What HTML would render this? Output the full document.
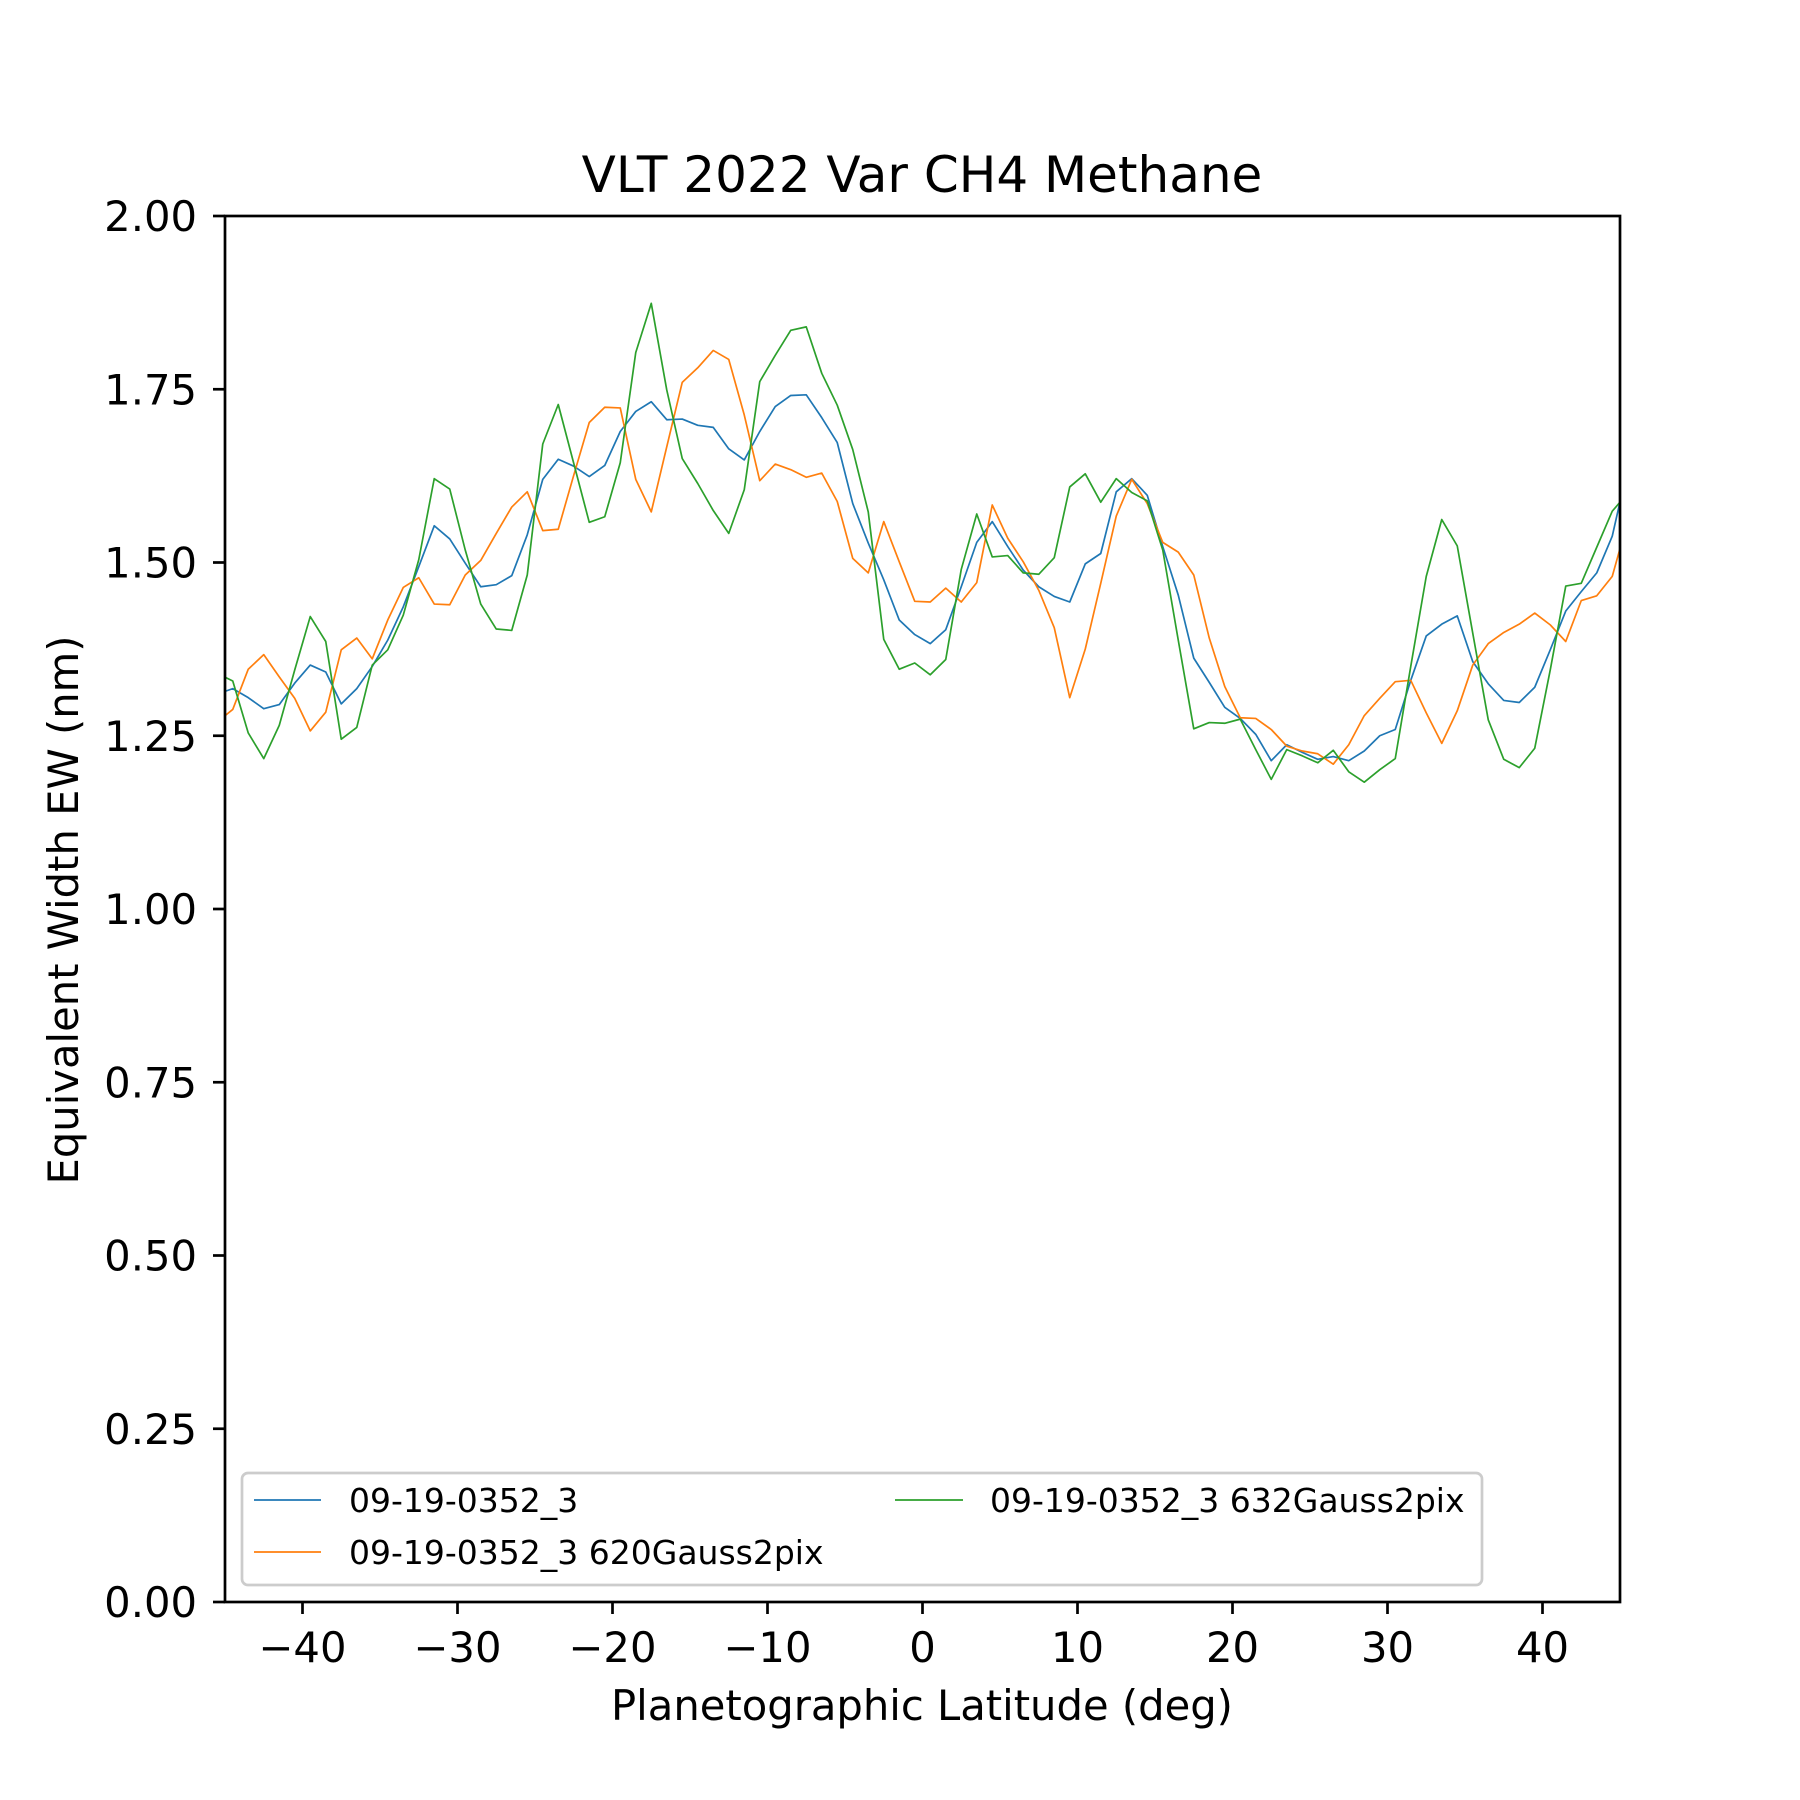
<!DOCTYPE html>
<html><head><meta charset="utf-8"><style>
html,body{margin:0;padding:0;background:#fff}
svg{display:block}
text{font-family:"DejaVu Sans","Liberation Sans",sans-serif;fill:#000}
</style></head><body>
<svg id="chart" width="1800" height="1800" viewBox="0 0 1800 1800" xmlns="http://www.w3.org/2000/svg">
<rect width="1800" height="1800" fill="#fff"/>
<text x="922" y="192" font-size="50" text-anchor="middle">VLT 2022 Var CH4 Methane</text>
<defs><clipPath id="plotclip"><rect x="225" y="216" width="1395" height="1386"/></clipPath></defs>
<g id="series" clip-path="url(#plotclip)"></g>
<g id="xticks"></g><g id="yticks"></g>
<rect x="225" y="216" width="1395" height="1386" fill="none" stroke="#000" stroke-width="2.7"/>
<text x="922" y="1720" font-size="41.7" text-anchor="middle">Planetographic Latitude (deg)</text>
<text transform="translate(78,910) rotate(-90)" font-size="41.7" text-anchor="middle">Equivalent Width EW (nm)</text>
<g>
<rect x="242" y="1473" width="1240" height="112" rx="6" fill="#fff" fill-opacity="0.8" stroke="#ccc" stroke-width="2.7"/>
<line x1="254" y1="1500" x2="321" y2="1500" stroke="#1f77b4" stroke-width="1.7"/>
<text x="349" y="1512" font-size="33">09-19-0352_3</text>
<line x1="254" y1="1552" x2="321" y2="1552" stroke="#ff7f0e" stroke-width="1.7"/>
<text x="349" y="1564" font-size="33">09-19-0352_3 620Gauss2pix</text>
<line x1="895" y1="1500" x2="963" y2="1500" stroke="#2ca02c" stroke-width="1.7"/>
<text x="990" y="1512" font-size="33">09-19-0352_3 632Gauss2pix</text>
</g>
</svg>
<script>
const latitudes = [];
for (let i = 0; i < 92; i++) latitudes.push(-45.5 + i);
const blueValues = [1.31,1.318,1.305,1.289,1.295,1.326,1.352,1.342,1.296,1.318,1.350,1.388,1.436,1.494,1.553,1.534,1.499,1.465,1.468,1.481,1.540,1.620,1.649,1.639,
1.624,1.640,1.689,1.718,1.732,1.706,1.707,1.698,1.695,1.664,1.648,1.689,1.725,1.741,1.742,1.709,1.673,1.585,1.528,1.475,1.417,1.396,
1.383,1.403,1.465,1.529,1.559,1.523,1.489,1.465,1.451,1.443,1.498,1.513,1.602,1.621,1.597,1.523,1.453,1.362,1.327,1.291,1.275,1.252,1.214,
1.237,1.226,1.216,1.220,1.214,1.228,1.250,1.259,1.330,1.394,1.411,1.423,1.357,1.325,1.301,1.298,1.320,1.374,1.430,1.458,1.485,1.538,1.637];
const orangeValues = [1.27,1.288,1.346,1.367,1.335,1.304,1.257,1.284,1.374,1.391,1.361,1.417,1.464,1.478,1.440,1.439,1.482,1.503,1.542,1.580,1.602,1.546,1.548,1.626,
1.702,1.724,1.723,1.620,1.573,1.667,1.760,1.781,1.806,1.793,1.713,1.618,1.642,1.634,1.623,1.629,1.588,1.506,1.485,1.559,1.501,1.444,
1.443,1.463,1.443,1.471,1.583,1.535,1.501,1.460,1.406,1.305,1.375,1.470,1.567,1.620,1.585,1.529,1.515,1.482,1.391,1.321,1.276,1.275,1.259,
1.235,1.228,1.224,1.209,1.237,1.279,1.304,1.328,1.330,1.283,1.239,1.286,1.352,1.383,1.399,1.411,1.427,1.410,1.386,1.445,1.452,1.480,1.560];
const greenValues = [1.34,1.329,1.254,1.217,1.265,1.345,1.422,1.386,1.245,1.262,1.352,1.374,1.424,1.504,1.621,1.606,1.518,1.440,1.404,1.402,1.482,1.671,1.728,1.643,
1.558,1.566,1.644,1.803,1.874,1.749,1.650,1.614,1.575,1.542,1.605,1.761,1.799,1.835,1.840,1.773,1.727,1.663,1.573,1.389,1.346,1.355,
1.338,1.360,1.490,1.570,1.508,1.510,1.485,1.483,1.507,1.609,1.628,1.587,1.621,1.601,1.589,1.518,1.388,1.260,1.269,1.268,1.274,1.230,1.187,
1.230,1.221,1.211,1.229,1.198,1.183,1.201,1.217,1.350,1.480,1.562,1.524,1.398,1.273,1.216,1.204,1.232,1.345,1.466,1.470,1.522,1.574,1.600];
const xTickValues = [-40,-30,-20,-10,0,10,20,30,40];
const yTickValues = [0,0.25,0.5,0.75,1.0,1.25,1.5,1.75,2.0];

const NS = 'http://www.w3.org/2000/svg';
const X0 = 225, X1 = 1620, Y0 = 1602, Y1 = 216;
function xScale(v){ return X0 + (v + 45) / 90 * (X1 - X0); }
function yScale(v){ return Y0 - v / 2 * (Y0 - Y1); }

const seriesG = document.getElementById('series');
function drawSeries(vals, color, name){
  const p = document.createElementNS(NS, 'polyline');
  p.setAttribute('points', vals.map((v,i)=>xScale(latitudes[i]).toFixed(2)+','+yScale(v).toFixed(2)).join(' '));
  p.setAttribute('fill','none');
  p.setAttribute('stroke',color);
  p.setAttribute('stroke-width','1.7');
  p.setAttribute('stroke-linejoin','round');
  
  
  seriesG.appendChild(p);
}
drawSeries(blueValues,'#1f77b4','series-raw-line');
drawSeries(orangeValues,'#ff7f0e','series-620gauss-line');
drawSeries(greenValues,'#2ca02c','series-632gauss-line');

const xt = document.getElementById('xticks');
xTickValues.forEach(v=>{
  const x = xScale(v);
  const l = document.createElementNS(NS,'line');
  l.setAttribute('x1',x); l.setAttribute('x2',x); l.setAttribute('y1',Y0); l.setAttribute('y2',Y0+12);
  l.setAttribute('stroke','#000'); l.setAttribute('stroke-width','2.7');
  
  
  xt.appendChild(l);
  const t = document.createElementNS(NS,'text');
  t.setAttribute('x',x); t.setAttribute('y',1662); t.setAttribute('font-size','41.7'); t.setAttribute('text-anchor','middle');
  t.textContent = v < 0 ? '\u2212' + Math.abs(v) : String(v);
  
  
  xt.appendChild(t);
});
const yt = document.getElementById('yticks');
yTickValues.forEach(v=>{
  const y = yScale(v);
  const l = document.createElementNS(NS,'line');
  l.setAttribute('x1',X0-12); l.setAttribute('x2',X0); l.setAttribute('y1',y); l.setAttribute('y2',y);
  l.setAttribute('stroke','#000'); l.setAttribute('stroke-width','2.7');
  
  
  yt.appendChild(l);
  const t = document.createElementNS(NS,'text');
  t.setAttribute('x',197); t.setAttribute('y',y+15); t.setAttribute('font-size','41.7'); t.setAttribute('text-anchor','end');
  t.textContent = v.toFixed(2);
  
  
  yt.appendChild(t);
});
</script>
</body></html>
